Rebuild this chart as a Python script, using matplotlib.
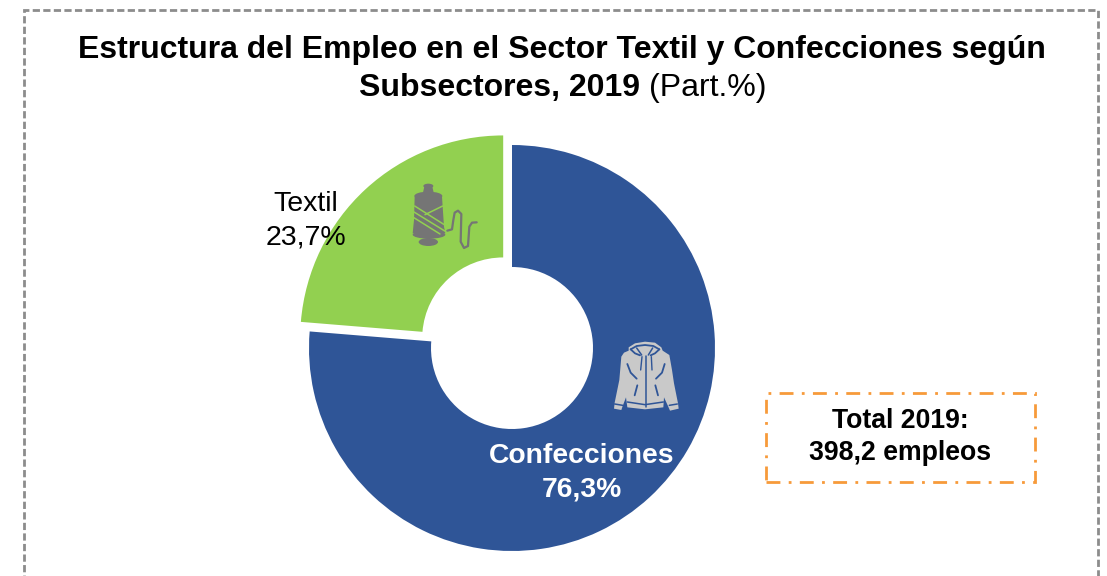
#!/usr/bin/env python3

import matplotlib
matplotlib.use('Agg')
import matplotlib.pyplot as plt
from matplotlib.patches import Polygon, Rectangle, Ellipse

W, H = 1107, 576

labels = ['Confecciones', 'Textil']
valores = [76.3, 23.7]
valores_txt = ['76,3%', '23,7%']
colores = ['#2F5597', '#92D050']
titulo_1 = 'Estructura del Empleo en el Sector Textil y Confecciones según'
titulo_2 = 'Subsectores, 2019'
titulo_3 = '(Part.%)'
total_txt = 'Total 2019:\n398,2 empleos'


def py(y):
    # pasar de pixeles de imagen (y hacia abajo) a ejes
    return H - y


def poly(ax, pts, color, ox, oy, z=5):
    ax.add_patch(Polygon([(ox + x / 3, py(oy + y / 3)) for x, y in pts],
                         closed=True, fc=color, ec='none', zorder=z))


def linea(ax, pts, color, ox, oy, lw=1.5, z=6):
    ax.plot([ox + x / 3 for x, y in pts], [py(oy + y / 3) for x, y in pts],
            color=color, lw=lw, zorder=z, solid_capstyle='round')


def chaqueta(ax):
    ox, oy = 590, 320
    gris = '#C9C9C9'
    azul = colores[0]
    poly(ax, [(116, 82), (135, 70), (165, 65), (195, 68), (214, 82), (218, 92), (238, 105),
              (246, 150), (252, 190), (264, 250), (266, 266), (240, 272), (234, 258),
              (222, 232), (220, 262), (165, 268), (112, 262), (108, 232), (98, 258),
              (94, 270), (72, 266), (74, 248), (88, 180), (94, 110), (102, 98), (116, 92)],
         gris, ox, oy)
    linea(ax, [(122, 88), (140, 78), (165, 75), (190, 78), (208, 88)], azul, ox, oy, lw=1.3)
    linea(ax, [(122, 88), (135, 100), (150, 106)], azul, ox, oy, lw=1.3)
    linea(ax, [(208, 88), (195, 100), (182, 106)], azul, ox, oy, lw=1.3)
    linea(ax, [(140, 84), (155, 105)], azul, ox, oy, lw=1.1)
    linea(ax, [(188, 84), (175, 105)], azul, ox, oy, lw=1.1)
    linea(ax, [(168, 108), (168, 262)], azul, ox, oy, lw=1.1)
    linea(ax, [(156, 110), (152, 150)], azul, ox, oy, lw=1.0)
    linea(ax, [(184, 110), (186, 150)], azul, ox, oy, lw=1.0)
    linea(ax, [(112, 132), (122, 158), (140, 176)], azul, ox, oy, lw=1.3)
    linea(ax, [(224, 132), (216, 158), (198, 176)], azul, ox, oy, lw=1.3)
    linea(ax, [(142, 196), (134, 226)], azul, ox, oy, lw=1.3)
    linea(ax, [(196, 196), (204, 226)], azul, ox, oy, lw=1.3)
    linea(ax, [(112, 246), (165, 254), (220, 246)], azul, ox, oy, lw=1.1)
    linea(ax, [(74, 252), (98, 256)], azul, ox, oy, lw=1.1)
    linea(ax, [(238, 256), (262, 252)], azul, ox, oy, lw=1.1)


def carrete(ax):
    ox, oy = 390, 170
    gris = '#757575'
    verde = colores[1]
    ax.add_patch(Ellipse((ox + 115 / 3, py(oy + 48 / 3)), 30 / 3, 14 / 3, fc=gris, ec='none', zorder=5))
    poly(ax, [(103, 50), (127, 50), (132, 72), (98, 72)], gris, ox, oy)
    ax.add_patch(Ellipse((ox + 115 / 3, py(oy + 78 / 3)), 84 / 3, 26 / 3, fc=gris, ec='none', zorder=5))
    poly(ax, [(74, 80), (156, 80), (162, 170), (166, 190), (68, 190), (72, 150)], gris, ox, oy)
    ax.add_patch(Ellipse((ox + 117 / 3, py(oy + 194 / 3)), 98 / 3, 24 / 3, fc=gris, ec='none', zorder=5))
    ax.add_patch(Ellipse((ox + 115 / 3, py(oy + 216 / 3)), 58 / 3, 24 / 3, fc=gris, ec='none', zorder=5))
    linea(ax, [(74, 108), (166, 166)], verde, ox, oy, lw=1.1)
    linea(ax, [(72, 126), (166, 184)], verde, ox, oy, lw=1.1)
    linea(ax, [(70, 142), (150, 192)], verde, ox, oy, lw=1.1)
    linea(ax, [(105, 134), (158, 108)], verde, ox, oy, lw=1.1)
    linea(ax, [(172, 182), (186, 178), (190, 150), (194, 128), (204, 122), (214, 132),
               (212, 215), (222, 234), (234, 228), (238, 170), (246, 158), (260, 157)],
          gris, ox, oy, lw=1.6)


def main():
    plt.rcParams['font.family'] = ['Liberation Sans', 'DejaVu Sans']

    fig = plt.figure(figsize=(W / 100, H / 100), dpi=100)
    ax = fig.add_axes([0, 0, 1, 1])

    radio = 203
    # explode de pie va en unidades de datos, aqui pixeles
    ax.pie(valores, colors=colores, startangle=90, counterclock=False,
           explode=[0, 13], center=(512, py(348)), radius=radio,
           wedgeprops=dict(width=radio - 81, edgecolor='none'))
    ax.set_xlim(0, W)
    ax.set_ylim(0, H)
    ax.set_aspect('equal')
    ax.axis('off')

    # marco punteado exterior (se sale por abajo)
    ax.add_patch(Rectangle((24, py(600)), 1074, 590, fc='none', ec='#8C8C8C', lw=2.0,
                           ls=(0, (2.6, 1.2)), zorder=1))

    # titulo
    ax.text(562, py(50), titulo_1, ha='center', va='center', fontsize=23, fontweight='bold', color='black')
    ax.text(640, py(88), titulo_2, ha='right', va='center', fontsize=23, fontweight='bold', color='black')
    ax.text(649, py(88), titulo_3, ha='left', va='center', fontsize=23, color='black')

    # etiquetas
    ax.text(305.5, py(221), f'{labels[1]}\n{valores_txt[1]}', ha='center', va='center',
            fontsize=20.5, color='black', zorder=7, linespacing=1.37)
    ax.text(581.5, py(472.5), f'{labels[0]}\n{valores_txt[0]}', ha='center', va='center',
            fontsize=20.3, fontweight='bold', color='white', zorder=7, linespacing=1.37)

    chaqueta(ax)
    carrete(ax)

    # caja del total
    ax.add_patch(Rectangle((766, py(482)), 269, 89, fc='white', ec='#F79A3A', lw=2.0,
                           ls=(0, (5, 3, 1, 3)), zorder=3))
    ax.text(900, py(437), total_txt, ha='center', va='center', fontsize=19.2,
            fontweight='bold', color='black', zorder=4, linespacing=1.28)

    fig.savefig('out.png', dpi=100, facecolor='white')
    plt.close(fig)


if __name__ == "__main__":
    main()
